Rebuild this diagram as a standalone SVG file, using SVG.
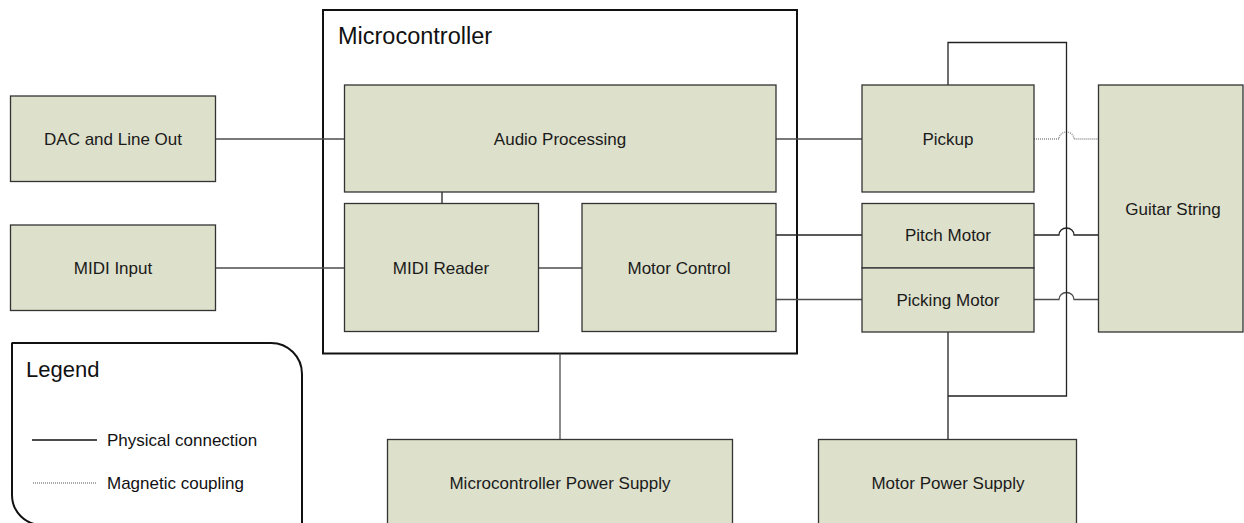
<svg xmlns="http://www.w3.org/2000/svg" width="1244" height="523" viewBox="0 0 1244 523">
<style>
  .box { fill: #dde0cb; stroke: #333333; stroke-width: 1.3; }
  .lbl { font-family: "Liberation Sans", Arial, sans-serif; font-size: 17px; fill: #1a1a1a; text-anchor: middle; }
  .ttl { font-family: "Liberation Sans", Arial, sans-serif; fill: #111111; }
  .wire { fill: none; stroke: #4d4d4d; stroke-width: 1.3; }
  .dark { stroke: #222222; }
  .mag { fill: none; stroke: #8c8c8c; stroke-width: 1.3; stroke-dasharray: 1 1; }
</style>
<rect width="1244" height="523" fill="#ffffff"/>

<g id="microcontroller">
  <rect x="323" y="10" width="474" height="343.5" fill="none" stroke="#111111" stroke-width="2"/>
  <text class="ttl" x="338" y="44" font-size="23.5">Microcontroller</text>
</g>

<g id="connectors">
  <path class="wire" d="M215,139 H344"/>
  <path class="wire" d="M215,268 H344"/>
  <path class="wire dark" d="M442,192 V203.5"/>
  <path class="wire" d="M538,268 H582"/>
  <path class="wire" d="M776,139 H862"/>
  <path class="wire dark" d="M776,235 H862"/>
  <path class="wire" d="M776,299.5 H862"/>
  <path class="mag" d="M1034,139 H1059 A7.5,7 0 0 1 1074,139 H1098.5"/>
  <path class="wire dark" d="M1034,235 H1059 A7.5,7 0 0 1 1074,235 H1098.5"/>
  <path class="wire" d="M1034,299.5 H1059 A7.5,7 0 0 1 1074,299.5 H1098.5"/>
  <path class="wire dark" d="M948,85 V42.5 H1066.5 V396 H948"/>
  <path class="wire dark" d="M948,332 V439.5"/>
  <path class="wire" d="M560,353.5 V439.5"/>
</g>

<g id="dac">
  <rect class="box" x="10.5" y="96" width="205" height="85.5"/>
  <text class="lbl" x="113" y="145">DAC and Line Out</text>
</g>
<g id="midi-input">
  <rect class="box" x="10.5" y="225" width="205" height="85.5"/>
  <text class="lbl" x="113" y="274">MIDI Input</text>
</g>
<g id="audio-processing">
  <rect class="box" x="344.5" y="85" width="431.5" height="107"/>
  <text class="lbl" x="560" y="145">Audio Processing</text>
</g>
<g id="midi-reader">
  <rect class="box" x="344.5" y="203.5" width="194" height="128"/>
  <text class="lbl" x="441" y="274">MIDI Reader</text>
</g>
<g id="motor-control">
  <rect class="box" x="582" y="203.5" width="194" height="128"/>
  <text class="lbl" x="679" y="274">Motor Control</text>
</g>
<g id="pickup">
  <rect class="box" x="862" y="85" width="172" height="107"/>
  <text class="lbl" x="948" y="145">Pickup</text>
</g>
<g id="pitch-motor">
  <rect class="box" x="862" y="203.5" width="172" height="64.5"/>
  <text class="lbl" x="948" y="241">Pitch Motor</text>
</g>
<g id="picking-motor">
  <rect class="box" x="862" y="268" width="172" height="64"/>
  <text class="lbl" x="948" y="305.5">Picking Motor</text>
</g>
<g id="guitar-string">
  <rect class="box" x="1098.5" y="85" width="144.5" height="247"/>
  <text class="lbl" x="1173" y="215">Guitar String</text>
</g>
<g id="mcu-power">
  <rect class="box" x="387.5" y="439.5" width="345" height="100"/>
  <text class="lbl" x="560" y="489">Microcontroller Power Supply</text>
</g>
<g id="motor-power">
  <rect class="box" x="818.5" y="439.5" width="258" height="100"/>
  <text class="lbl" x="948" y="489">Motor Power Supply</text>
</g>

<g id="legend">
  <path d="M11.5,343 H271 A31,31 0 0 1 302,374 V530 M302,525 H42 A30,30 0 0 1 12,495 V343" fill="none" stroke="#111111" stroke-width="2"/>
  <text class="ttl" x="26" y="377" font-size="22">Legend</text>
  <path d="M32,440 H97" stroke="#111111" stroke-width="1.3"/>
  <text class="ttl" x="107" y="446" font-size="17" fill="#1a1a1a">Physical connection</text>
  <path class="mag" d="M33,483 H97"/>
  <text class="ttl" x="107" y="489" font-size="17" fill="#1a1a1a">Magnetic coupling</text>
</g>
</svg>
